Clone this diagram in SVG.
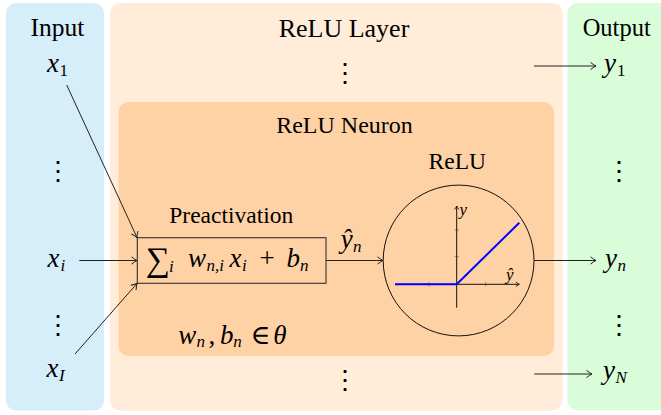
<svg xmlns="http://www.w3.org/2000/svg" width="661" height="415" viewBox="0 0 661 415" font-family="'Liberation Serif','DejaVu Serif',serif">
<style>
.t{font-family:'Liberation Serif','DejaVu Serif',serif;fill:#000}
.m{font-family:'Liberation Serif','DejaVu Serif',serif;font-style:italic;fill:#000;font-size:27px}
.s{font-family:'Liberation Serif','DejaVu Serif',serif;font-style:normal;font-size:17px}
.si{font-family:'Liberation Serif','DejaVu Serif',serif;font-style:italic;font-size:17px}
.d{font-family:'DejaVu Serif',serif;font-size:26px;fill:#000;text-anchor:middle}
.c{stroke:#222;stroke-width:1;fill:none}
.ax{stroke:#111;stroke-width:1;fill:none}
.tk{stroke:#777;stroke-width:0.7;fill:none}
</style>
<defs>
<marker id="ah" viewBox="-7 -5 8 10" refX="0" refY="0" markerWidth="8" markerHeight="10" markerUnits="userSpaceOnUse" orient="auto" overflow="visible"><path d="M-5.5,-3.6 Q-2,-0.9 0,0 Q-2,0.9 -5.5,3.6" fill="none" stroke="#222" stroke-width="1"/></marker>
<marker id="sh" viewBox="-5 -3 6 6" refX="0" refY="0" markerWidth="6" markerHeight="6" markerUnits="userSpaceOnUse" orient="auto" overflow="visible"><path d="M-3.5,-2.2 Q-1.2,-0.5 0,0 Q-1.2,0.5 -3.5,2.2" fill="none" stroke="#111" stroke-width="0.9"/></marker>
</defs>

<g id="input-panel">
<rect x="6" y="3" width="98" height="407.5" rx="10" fill="#d6edfa"/>
<text class="t" x="57.5" y="36" font-size="25.5" text-anchor="middle">Input</text>
<text class="d" x="57.7" y="180">⋮</text>
<text class="d" x="57.7" y="334">⋮</text>
</g>
<g id="relu-layer">
<rect x="110" y="3" width="452.5" height="407.5" rx="10" fill="#ffecd9"/>
<text class="t" x="344" y="36.5" font-size="26" text-anchor="middle">ReLU Layer</text>
<text class="d" x="345" y="82">⋮</text>
<text class="d" x="345" y="389">⋮</text>
</g>
<g id="output-panel">
<rect x="567.5" y="3" width="110" height="407.5" rx="10" fill="#d9fdd9"/>
<text class="t" x="616.7" y="36" font-size="24.5" text-anchor="middle">Output</text>
<text class="d" x="618.5" y="180">⋮</text>
<text class="d" x="618.5" y="334">⋮</text>
</g>
<g id="relu-neuron">
<rect x="118.5" y="102" width="435.5" height="254" rx="10" fill="#ffd2a6"/>
<text class="t" x="344.5" y="133" font-size="24" text-anchor="middle">ReLU Neuron</text>
<text class="m"><tspan x="178.3" y="343.5">w</tspan><tspan class="si" x="196.5" y="347">n</tspan><tspan x="208.5" y="343.5" font-style="normal">,</tspan><tspan x="220" y="343.5">b</tspan><tspan class="si" x="233.3" y="347">n</tspan><tspan x="250.5" y="343.5" font-style="normal">∈</tspan><tspan x="273.3" y="343.5">θ</tspan></text>
</g>

<g id="x1"><text class="m"><tspan x="47" y="72">x</tspan><tspan class="s" x="59.5" y="76">1</tspan></text></g>
<g id="xi"><text class="m"><tspan x="47.5" y="266.5">x</tspan><tspan class="si" x="60.5" y="270.5">i</tspan></text></g>
<g id="xI"><text class="m"><tspan x="46.5" y="377">x</tspan><tspan class="si" x="59" y="381">I</tspan></text></g>

<g id="preactivation">
<text class="t" x="231.3" y="223" font-size="23.5" text-anchor="middle">Preactivation</text>
<rect x="137.3" y="237.7" width="188.7" height="45.6" fill="none" stroke="#333" stroke-width="1.1"/>
<text class="m"><tspan x="145.5" y="271" font-size="34" font-style="normal" style="font-size:34px">∑</tspan><tspan class="si" x="169" y="272">i</tspan><tspan x="188" y="267">w</tspan><tspan class="si" x="206.5" y="271">n,i</tspan><tspan x="229.5" y="267">x</tspan><tspan class="si" x="242" y="271">i</tspan><tspan x="259.5" y="267" font-style="normal">+</tspan><tspan x="286.5" y="267">b</tspan><tspan class="si" x="300" y="271">n</tspan></text>
</g>

<g id="relu">
<text class="t" x="457.3" y="169" font-size="23.5" text-anchor="middle">ReLU</text>
<circle cx="458.6" cy="260.5" r="75.4" fill="none" stroke="#111" stroke-width="1"/>
<line class="tk" x1="429" y1="282" x2="429" y2="286.6"/>
<line class="tk" x1="485.7" y1="282" x2="485.7" y2="286.6"/>
<line class="tk" x1="454.4" y1="256.7" x2="459" y2="256.7"/>
<line class="tk" x1="454.4" y1="230" x2="459" y2="230"/>
<line class="ax" x1="456.7" y1="307.7" x2="456.7" y2="206" marker-end="url(#sh)"/>
<line class="ax" x1="395" y1="284.3" x2="519.3" y2="284.3" marker-end="url(#sh)"/>
<polyline points="395,284.3 456.7,284.3 519.3,222.7" fill="none" stroke="#0000ff" stroke-width="2"/>
<text class="m" x="459.5" y="214.5" style="font-size:17px">y</text>
<text class="m" x="506" y="279.5" style="font-size:17px">ŷ</text>
</g>

<g id="y1"><text class="m"><tspan x="604" y="72">y</tspan><tspan class="s" x="617" y="76">1</tspan></text></g>
<g id="yn"><text class="m"><tspan x="605" y="266.5">y</tspan><tspan class="si" x="617.5" y="270.5">n</tspan></text></g>
<g id="yN"><text class="m"><tspan x="603" y="379">y</tspan><tspan class="si" x="615.5" y="383">N</tspan></text></g>

<g id="connectors">
<line class="c" x1="66.7" y1="85" x2="137" y2="237.5" marker-end="url(#ah)"/>
<line class="c" x1="79.3" y1="260.5" x2="137" y2="260.5" marker-end="url(#ah)"/>
<line class="c" x1="75" y1="354" x2="137" y2="283.5" marker-end="url(#ah)"/>
<line class="c" x1="326" y1="260.5" x2="383" y2="260.5" marker-end="url(#ah)"/>
<text class="m"><tspan x="340.7" y="248">ŷ</tspan><tspan class="si" x="353" y="252">n</tspan></text>
<line class="c" x1="534" y1="260.5" x2="596" y2="260.5" marker-end="url(#ah)"/>
<line class="c" x1="534" y1="66" x2="596" y2="66" marker-end="url(#ah)"/>
<line class="c" x1="534.3" y1="374" x2="592" y2="374" marker-end="url(#ah)"/>
</g>
</svg>
